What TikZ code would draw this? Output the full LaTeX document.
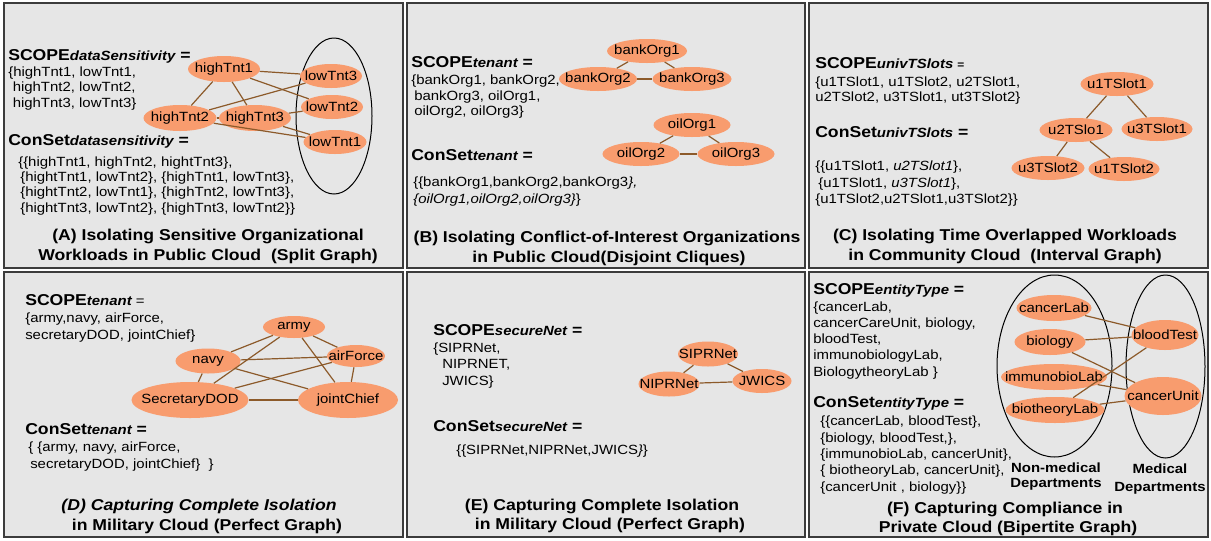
\documentclass[tikz,border=0pt]{standalone}
\usepackage{fontspec}
\setmainfont{Liberation Sans}[FakeStretch=1.12]
\usetikzlibrary{shapes.geometric}

\definecolor{panelfill}{RGB}{230,230,230}
\definecolor{panelline}{RGB}{60,60,60}
\definecolor{orgfill}{RGB}{248,156,110}
\definecolor{linkbrown}{RGB}{140,90,42}

\newcommand\fsbody{\fontsize{10pt}{12pt}\selectfont}
\newcommand\fshead{\fontsize{11.8pt}{14pt}\selectfont\bfseries}
\newcommand\subs[1]{{\fsbody\bfseries\itshape #1}}

\begin{document}
\begin{tikzpicture}[x=0.75pt,y=-0.75pt,
  panel/.style={draw=panelline, line width=1.2pt, fill=panelfill},
  txt/.style={font=\fsbody, anchor=base west, inner sep=0pt},
  head/.style={anchor=base west, inner sep=0pt},
  ttl/.style={font=\fshead, anchor=base, inner sep=0pt},
  dept/.style={font=\fsbody\bfseries, anchor=base, inner sep=0pt},
  sz/.style 2 args={minimum width=#1*0.75pt, minimum height=#2*0.75pt},
  vert/.style={ellipse, fill=orgfill, font=\fsbody, inner xsep=-30pt, inner ysep=-15pt},
  grp/.style={ellipse, draw=black, line width=0.75pt, inner sep=0pt},
  link/.style={draw=linkbrown, line width=0.9pt},
]
\useasboundingbox (0,0) rectangle (1211,540);
\fill[white] (0,0) rectangle (1211,540);

% six panels
\draw[panel] (4,3) rectangle (403,268);
\draw[panel] (407,3) rectangle (805,268);
\draw[panel] (809,3) rectangle (1208,268);
\draw[panel] (4,272) rectangle (403,537);
\draw[panel] (407,272) rectangle (805,537);
\draw[panel] (809,272) rectangle (1208,537);

% ---------------- (A) split graph ----------------
\node[head] (A-h) at (8,60.5) {{\fshead SCOPE}\subs{dataSensitivity}{\fshead{} =}};
\node[txt] (A-s1) at (8,76.5) {\{highTnt1, lowTnt1,};
\node[txt] (A-s2) at (12.5,91.5) {highTnt2, lowTnt2,};
\node[txt] (A-s3) at (12.5,107) {highTnt3, lowTnt3\}};
\node[head] (A-c) at (8,145.5) {{\fshead ConSet}\subs{datasensitivity}{\fshead{} =}};
\node[txt] (A-c1) at (18,166.5) {\{\{highTnt1, highTnt2, hightTnt3\},};
\node[txt] (A-c2) at (20,181.5) {\{hightTnt1, lowTnt2\}, \{highTnt1, lowTnt3\},};
\node[txt] (A-c3) at (20,196.5) {\{hightTnt2, lowTnt1\}, \{highTnt2, lowTnt3\},};
\node[txt] (A-c4) at (20,212.5) {\{hightTnt3, lowTnt2\}, \{highTnt3, lowTnt2\}\}};
\node[ttl] (A-t1) at (208,240.5) {(A) Isolating Sensitive Organizational};
\node[ttl] (A-t2) at (208,260.5) {Workloads in Public Cloud\ \ (Split Graph)};

\node[grp, sz={76}{156}] (A-grp) at (334,116) {};
\node[vert, sz={72}{26}] (A-h1) at (224,69) {highTnt1};
\node[vert, sz={73}{26}] (A-h2) at (180,118) {highTnt2};
\node[vert, sz={72}{26}] (A-h3) at (255,118) {highTnt3};
\node[vert, sz={62}{24}] (A-l3) at (331,76) {lowTnt3};
\node[vert, sz={62}{24}] (A-l2) at (332,107) {lowTnt2};
\node[vert, sz={63}{24}] (A-l1) at (335,142) {lowTnt1};
\draw[link] (A-h1) -- (A-l3);
\draw[link] (A-h1) -- (A-l2);
\draw[link] (A-h1) -- (A-h2);
\draw[link] (A-h1) -- (A-h3);
\draw[link] (A-h2) -- (A-l3);
\draw[link] (A-h2) -- (A-h3);
\draw[link] (A-h2) -- (A-l1);
\draw[link] (A-h3) -- (A-l2);
\draw[link] (A-h3) -- (A-l1);

% ---------------- (B) disjoint cliques ----------------
\node[head] (B-h) at (411,67.5) {{\fshead SCOPE}\subs{tenant}{\fshead{} =}};
\node[txt] (B-s1) at (411,84.5) {\{bankOrg1, bankOrg2,};
\node[txt] (B-s2) at (414,100.5) {bankOrg3, oilOrg1,};
\node[txt] (B-s3) at (414,115.5) {oilOrg2, oilOrg3\}};
\node[head] (B-c) at (411,160.5) {{\fshead ConSet}\subs{tenant}{\fshead{} =}};
\node[txt] (B-c1) at (413,186.5) {\{\{bankOrg1,bankOrg2,bankOrg3\textit{\},}};
\node[txt] (B-c2) at (413,203.5) {\textit{\{oilOrg1,oilOrg2,oilOrg3\}}\}};
\node[ttl] (B-t1) at (607,242.5) {(B) Isolating Conflict-of-Interest Organizations};
\node[ttl] (B-t2) at (609,262.5) {in Public Cloud(Disjoint Cliques)};

\node[vert, sz={80}{24}] (B-b1) at (647,51) {bankOrg1};
\node[vert, sz={78}{24}] (B-b2) at (598,79) {bankOrg2};
\node[vert, sz={79}{24}] (B-b3) at (692,79) {bankOrg3};
\node[vert, sz={77}{24}] (B-o1) at (692,125) {oilOrg1};
\node[vert, sz={77}{24}] (B-o2) at (641,154) {oilOrg2};
\node[vert, sz={77}{24}] (B-o3) at (736,154) {oilOrg3};
\draw[link] (B-b1) -- (B-b2);
\draw[link] (B-b1) -- (B-b3);
\draw[link] (B-b2) -- (B-b3);
\draw[link] (B-o1) -- (B-o2);
\draw[link] (B-o1) -- (B-o3);
\draw[link] (B-o2) -- (B-o3);

% ---------------- (C) interval graph ----------------
\node[head] (C-h) at (815,68.5) {{\fshead SCOPE}\subs{univTSlots} {\fontsize{8pt}{9pt}\selectfont\bfseries =}};
\node[txt] (C-s1) at (815,86.5) {\{u1TSlot1, u1TSlot2, u2TSlot1,};
\node[txt] (C-s2) at (815,101.5) {u2TSlot2, u3TSlot1, ut3TSlot2\}};
\node[head] (C-c) at (815,137.5) {{\fshead ConSet}\subs{univTSlots}{\fshead{} =}};
\node[txt] (C-c1) at (815,170.5) {\{\{u1TSlot1, \textit{u2TSlot1}\},};
\node[txt] (C-c2) at (818,187.5) {\{u1TSlot1, \textit{u3TSlot1}\},};
\node[txt] (C-c3) at (815,203.5) {\{u1TSlot2,u2TSlot1,u3TSlot2\}\}};
\node[ttl] (C-t1) at (1005,240.5) {(C) Isolating Time Overlapped Workloads};
\node[ttl] (C-t2) at (1005,260.5) {in Community Cloud\ \ (Interval Graph)};

\node[vert, sz={73}{24}] (C-a1) at (1117,84) {u1TSlot1};
\node[vert, sz={73}{24}] (C-b1) at (1076,130) {u2TSlo1};
\node[vert, sz={71}{24}] (C-c1n) at (1157,129) {u3TSlot1};
\node[vert, sz={73}{24}] (C-c2n) at (1048,168) {u3TSlot2};
\node[vert, sz={71}{24}] (C-a2) at (1124,169) {u1TSlot2};
\draw[link] (C-a1) -- (C-b1);
\draw[link] (C-a1) -- (C-c1n);
\draw[link] (C-b1) -- (C-c2n);
\draw[link] (C-b1) -- (C-a2);

% ---------------- (D) perfect graph ----------------
\node[head] (D-h) at (25,305.5) {{\fshead SCOPE}\subs{tenant}{\fsbody{} =}};
\node[txt] (D-s1) at (25,322.5) {\{army,navy, airForce,};
\node[txt] (D-s2) at (25,339.5) {secretaryDOD, jointChief\}};
\node[head] (D-c) at (25,434.5) {{\fshead ConSet}\subs{tenant}{\fshead{} =}};
\node[txt] (D-c1) at (28,451.5) {\{ \{army, navy, airForce,};
\node[txt] (D-c2) at (30,468.5) {secretaryDOD, jointChief\}\ \ \}};
\node[ttl] (D-t1) at (199,510.5) {\itshape (D) Capturing Complete Isolation};
\node[ttl] (D-t2) at (207,530.5) {in Military Cloud (Perfect Graph)};

\node[vert, sz={62}{22}] (D-army) at (294,327) {army};
\node[vert, sz={65}{25}] (D-navy) at (208,361) {navy};
\node[vert, sz={58}{22}] (D-air) at (356,356) {airForce};
\node[vert, sz={117}{36}] (D-sec) at (190,400) {SecretaryDOD};
\node[vert, sz={100}{36}] (D-joint) at (348,400) {jointChief};
\draw[link] (D-army) -- (D-navy);
\draw[link] (D-army) -- (D-air);
\draw[link] (D-army) -- (D-sec);
\draw[link] (D-army) -- (D-joint);
\draw[link] (D-navy) -- (D-air);
\draw[link] (D-navy) -- (D-joint);
\draw[link] (D-navy) -- (D-sec);
\draw[link] (D-air) -- (D-sec);
\draw[link] (D-air) -- (D-joint);
\draw[link] (D-sec) -- (D-joint);

% ---------------- (E) perfect graph ----------------
\node[head] (E-h) at (433,335.5) {{\fshead SCOPE}\subs{secureNet}{\fshead{} =}};
\node[txt] (E-s1) at (433,352.5) {\{SIPRNet,};
\node[txt] (E-s2) at (442,368.5) {NIPRNET,};
\node[txt] (E-s3) at (442,385.5) {JWICS\}};
\node[head] (E-c) at (433,431.5) {{\fshead ConSet}\subs{secureNet}{\fshead{} =}};
\node[txt] (E-c1) at (456,454.5) {\{\{SIPRNet,NIPRNet,JWICS\textit{\}}\}};
\node[ttl] (E-t1) at (602,510.5) {(E) Capturing Complete Isolation};
\node[ttl] (E-t2) at (610,529.5) {in Military Cloud (Perfect Graph)};

\node[vert, sz={60}{25}] (E-sip) at (708,354) {SIPRNet};
\node[vert, sz={61}{25}] (E-nip) at (669,384) {NIPRNet};
\node[vert, sz={59}{24}] (E-jw) at (762,381) {JWICS};
\draw[link] (E-sip) -- (E-nip);
\draw[link] (E-sip) -- (E-jw);
\draw[link] (E-nip) -- (E-jw);

% ---------------- (F) bipartite graph ----------------
\node[head] (F-h) at (813,294.5) {{\fshead SCOPE}\subs{entityType}{\fshead{} =}};
\node[txt] (F-s1) at (813,311.5) {\{cancerLab,};
\node[txt] (F-s2) at (813,327.5) {cancerCareUnit, biology,};
\node[txt] (F-s3) at (813,343.5) {bloodTest,};
\node[txt] (F-s4) at (813,359.5) {immunobiologyLab,};
\node[txt] (F-s5) at (813,376.5) {BiologytheoryLab \}};
\node[head] (F-c) at (813,407.5) {{\fshead ConSet}\subs{entityType}{\fshead{} =}};
\node[txt] (F-c1) at (820,425.5) {\{\{cancerLab, bloodTest\},};
\node[txt] (F-c2) at (820,442.5) {\{biology, bloodTest,\},};
\node[txt] (F-c3) at (820,458.5) {\{immunobioLab, cancerUnit\},};
\node[txt] (F-c4) at (820,474.5) {\{ biotheoryLab, cancerUnit\},};
\node[txt] (F-c5) at (820,491.5) {\{cancerUnit , biology\}\}};
\node[ttl] (F-t1) at (1005,513.5) {(F) Capturing Compliance in};
\node[ttl] (F-t2) at (1008,532.5) {Private Cloud (Bipertite Graph)};

\node[grp, sz={115}{182}] (F-left) at (1054.5,366) {};
\node[grp, sz={79}{183}] (F-right) at (1165.5,366.5) {};
\node[dept] (F-d1a) at (1056,472) {Non-medical};
\node[dept] (F-d1b) at (1056,487) {Departments};
\node[dept] (F-d2a) at (1160,473) {Medical};
\node[dept] (F-d2b) at (1160,491) {Departments};

\node[vert, sz={75}{26}] (F-cl) at (1054,308) {cancerLab};
\node[vert, sz={71}{26}] (F-bio) at (1050,342) {biology};
\node[vert, sz={106}{26}] (F-imm) at (1054,377) {immunobioLab};
\node[vert, sz={99}{26}] (F-bt) at (1055,410) {biotheoryLab};
\node[vert, sz={67}{30}] (F-blood) at (1165,335) {bloodTest};
\node[vert, sz={77}{38}] (F-cu) at (1163,396) {cancerUnit};
\draw[link] (F-cl) -- (F-blood);
\draw[link] (F-bio) -- (F-blood);
\draw[link] (F-bio) -- (F-cu);
\draw[link] (F-imm) -- (F-cu);
\draw[link] (F-bt) -- (F-cu);
\draw[link] (F-bt) -- (F-blood);
\end{tikzpicture}
\end{document}
